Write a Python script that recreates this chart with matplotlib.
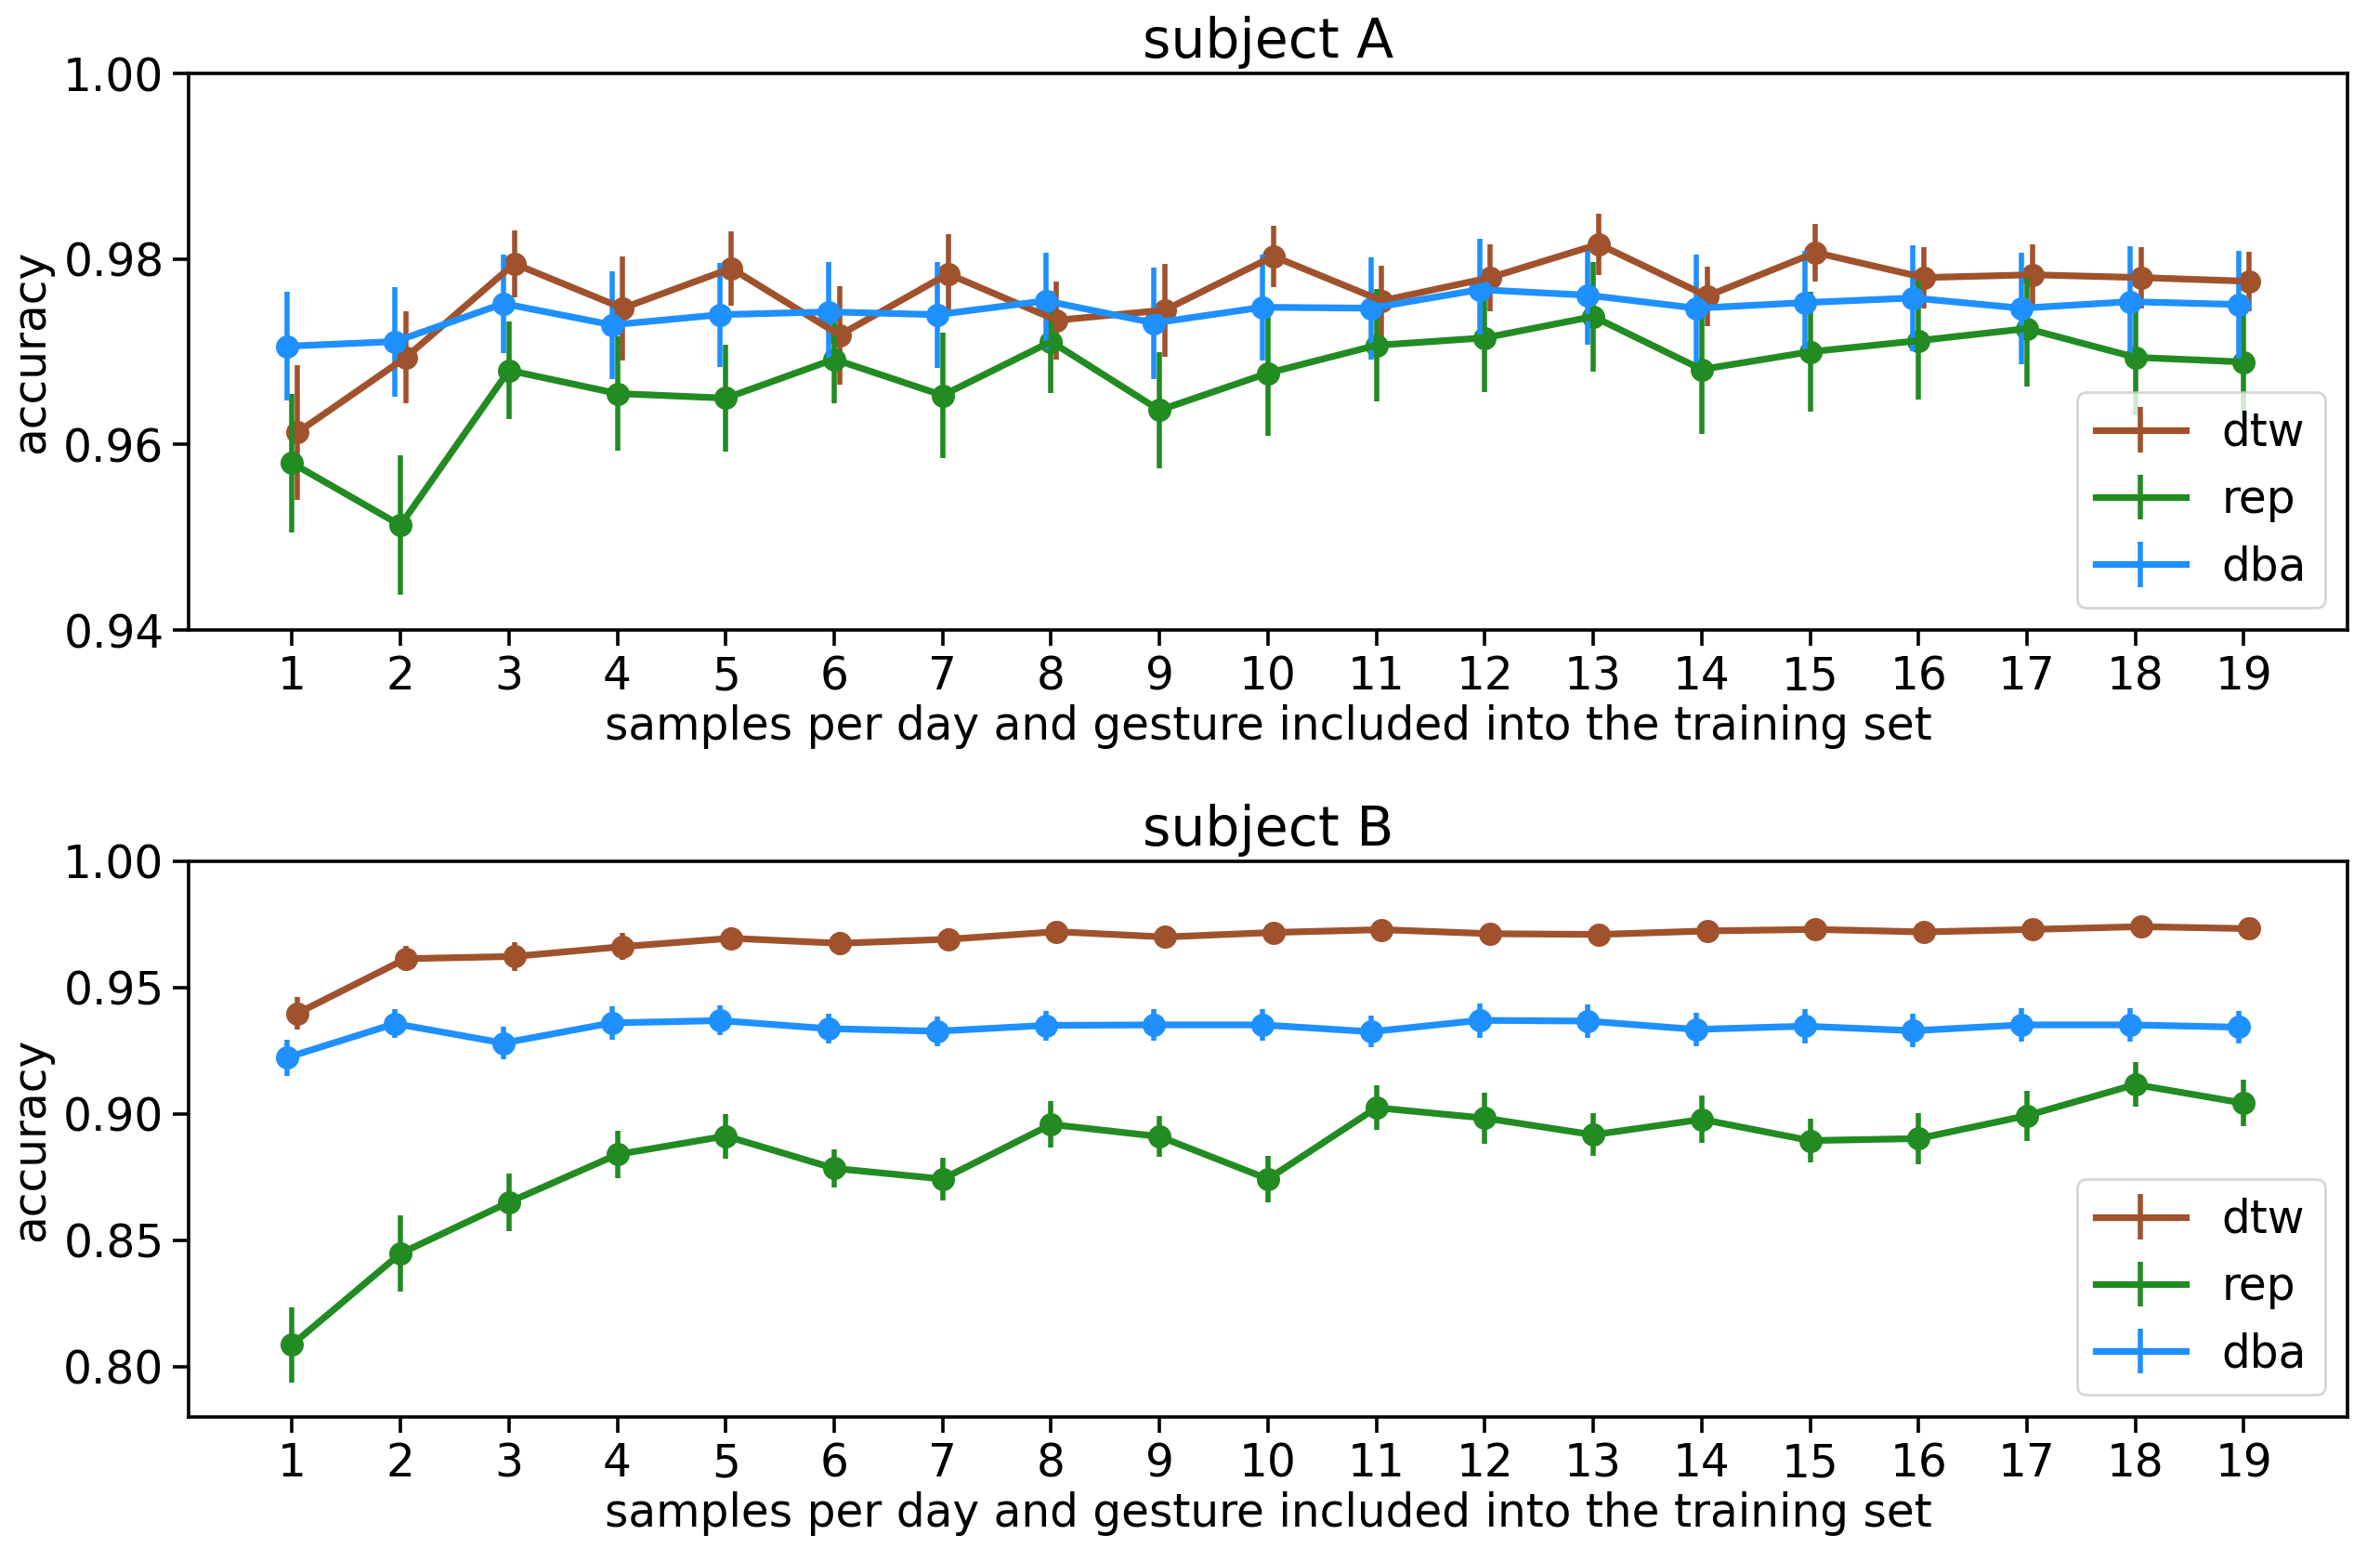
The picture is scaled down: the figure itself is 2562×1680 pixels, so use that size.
import numpy as np
import matplotlib
matplotlib.use("Agg")
import matplotlib.pyplot as plt

samples = list(range(1, 20))
series_names = ["dtw", "rep", "dba"]
series_colors = ["sienna", "forestgreen", "dodgerblue"]

# subject A
a_dtw = [0.9613, 0.9694, 0.9795, 0.9747, 0.9790, 0.9718, 0.9784, 0.9734, 0.9745, 0.9803,
         0.9755, 0.9780, 0.9816, 0.9760, 0.9807, 0.9780, 0.9783, 0.9780, 0.9776]
a_dtw_err = [0.0073, 0.0050, 0.0036, 0.0056, 0.0040, 0.0053, 0.0043, 0.0042, 0.0050, 0.0033,
             0.0038, 0.0036, 0.0033, 0.0032, 0.0031, 0.0033, 0.0033, 0.0033, 0.0032]
a_rep = [0.9580, 0.9513, 0.9680, 0.9655, 0.9650, 0.9692, 0.9653, 0.9711, 0.9637, 0.9677,
         0.9707, 0.9715, 0.9738, 0.9681, 0.9700, 0.9712, 0.9725, 0.9694, 0.9689]
a_rep_err = [0.0075, 0.0075, 0.0053, 0.0062, 0.0058, 0.0048, 0.0068, 0.0055, 0.0063, 0.0068,
             0.0061, 0.0058, 0.0059, 0.0070, 0.0065, 0.0064, 0.0062, 0.0063, 0.0062]
a_dba = [0.9706, 0.9711, 0.9752, 0.9729, 0.9740, 0.9743, 0.9740, 0.9755, 0.9731, 0.9748,
         0.9747, 0.9767, 0.9761, 0.9747, 0.9753, 0.9758, 0.9747, 0.9754, 0.9751]
a_dba_err = [0.0059, 0.0059, 0.0053, 0.0058, 0.0056, 0.0054, 0.0057, 0.0052, 0.0060, 0.0057,
             0.0055, 0.0055, 0.0053, 0.0058, 0.0056, 0.0057, 0.0060, 0.0060, 0.0058]

# subject B
b_dtw = [0.9398, 0.9614, 0.9623, 0.9662, 0.9695, 0.9675, 0.9691, 0.9721, 0.9700, 0.9718,
         0.9729, 0.9713, 0.9710, 0.9724, 0.9730, 0.9720, 0.9730, 0.9741, 0.9733]
b_dtw_err = [0.0063, 0.0050, 0.0056, 0.0053, 0.0042, 0.0046, 0.0042, 0.0040, 0.0042, 0.0040,
             0.0040, 0.0040, 0.0040, 0.0040, 0.0040, 0.0040, 0.0040, 0.0040, 0.0040]
b_rep = [0.8086, 0.8447, 0.8650, 0.8839, 0.8912, 0.8784, 0.8742, 0.8958, 0.8910, 0.8742,
         0.9024, 0.8983, 0.8917, 0.8978, 0.8894, 0.8902, 0.8993, 0.9116, 0.9042]
b_rep_err = [0.0149, 0.0150, 0.0114, 0.0094, 0.0088, 0.0074, 0.0085, 0.0093, 0.0080, 0.0093,
             0.0088, 0.0101, 0.0084, 0.0094, 0.0088, 0.0102, 0.0099, 0.0089, 0.0092]
b_dba = [0.9222, 0.9357, 0.9280, 0.9360, 0.9369, 0.9337, 0.9327, 0.9350, 0.9352, 0.9352,
         0.9325, 0.9370, 0.9367, 0.9334, 0.9347, 0.9329, 0.9352, 0.9352, 0.9343]
b_dba_err = [0.0072, 0.0057, 0.0063, 0.0066, 0.0059, 0.0059, 0.0059, 0.0059, 0.0063, 0.0061,
             0.0063, 0.0068, 0.0066, 0.0065, 0.0067, 0.0066, 0.0066, 0.0066, 0.0065]

offsets = [0.05, 0.0, -0.05]

panels = [
    ("subject A", [a_dtw, a_rep, a_dba], [a_dtw_err, a_rep_err, a_dba_err], (0.94, 1.00),
     [0.94, 0.96, 0.98, 1.00]),
    ("subject B", [b_dtw, b_rep, b_dba], [b_dtw_err, b_rep_err, b_dba_err], (0.78, 1.00),
     [0.80, 0.85, 0.90, 0.95, 1.00]),
]

plt.rcParams['font.family'] = ['DejaVu Sans']
fig = plt.figure(figsize=(12.81, 8.4), dpi=200)
axes_rects = [[0.0792, 0.5964, 0.9071, 0.3565], [0.0792, 0.0923, 0.9071, 0.3560]]

fs = 17.5
for rect, (title, vals, errs, ylim, yticks) in zip(axes_rects, panels):
    ax = fig.add_axes(rect)
    x = np.array(samples, dtype=float)
    for name, color, v, e, off in zip(series_names, series_colors, vals, errs, offsets):
        ax.errorbar(x + off, v, yerr=e, color=color, lw=2.6, elinewidth=2.0, label=name)
        ax.plot(x + off, v, 'o', color=color, ms=8)
    ax.set_ylim(*ylim)
    ax.set_yticks(yticks)
    ax.set_yticklabels([f"{t:.2f}" for t in yticks])
    ax.set_xticks(samples)
    ax.set_xticklabels([str(s) for s in samples])
    ax.tick_params(labelsize=fs, width=1.3, length=6)
    for sp in ax.spines.values():
        sp.set_linewidth(1.3)
    ax.set_title(title, fontsize=21)
    ax.set_xlabel("samples per day and gesture included into the training set", fontsize=fs,
                  labelpad=2)
    ax.set_ylabel("accuracy", fontsize=fs)
    ax.legend(loc="lower right", fontsize=fs)

fig.savefig("out.png", dpi=200)
